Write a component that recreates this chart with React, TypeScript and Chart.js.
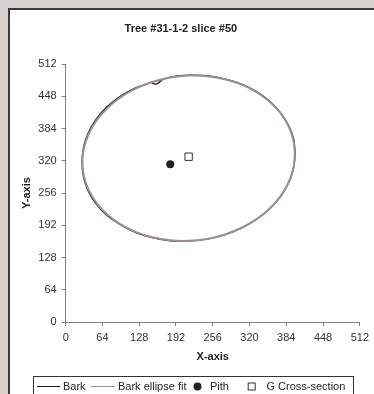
import React, { useEffect, useRef } from "react";
import { Chart, registerables } from "chart.js";

Chart.register(...registerables);

const FONT = '"Liberation Sans", Arial, Helvetica, sans-serif';

const TITLE = "Tree #31-1-2 slice #50";
const X_TITLE = "X-axis";
const Y_TITLE = "Y-axis";
const AXIS_MIN = 0;
const AXIS_MAX = 512;
const AXIS_STEP = 64;

const SERIES_NAMES = ["Bark", "Bark ellipse fit", "Pith", "G Cross-section"];

// Bark outline
const barkX = [
  399.5, 397, 388.5, 374.5, 356, 333, 306, 277, 246, 214, 198, 182,
  172, 168, 165, 161, 156, 152, 148.5, 140, 120.5, 94, 71, 52.5, 39, 31,
  28.5, 31, 39, 52.5, 71, 94.5, 121, 150.5, 182, 214, 246, 277.5, 306.5,
  333, 356, 374.5, 388, 396.5, 399.5,
];
const barkY = [
  333, 362, 389, 414.5, 437, 456.5, 472, 482.5, 489, 490, 489, 486,
  482.5, 481, 478, 474, 472, 473.5, 476, 471.8, 464, 447, 426, 401.5, 374.5, 346,
  317, 288, 260.5, 235, 212.5, 193.5, 178, 167.5, 161, 160.5, 164.5, 173.5, 187,
  204.5, 225.5, 250, 276.5, 304.5, 333,
];

// Bark ellipse fit
const ellipseX = [
  399.0, 396.2, 387.8, 374.2, 355.7, 332.9, 306.5, 277.3, 246.1, 214.0, 181.9, 150.7,
  121.5, 95.1, 72.3, 53.8, 40.2, 31.8, 29.0, 31.8, 40.2, 53.8, 72.3, 95.1,
  121.5, 150.7, 181.9, 214.0, 246.1, 277.3, 306.5, 332.9, 355.7, 374.2, 387.8, 396.2,
  399.0,
];
const ellipseY = [
  333.0, 361.4, 388.6, 413.9, 436.5, 455.7, 471.0, 481.8, 487.9, 489.0, 485.1, 476.4,
  463.0, 445.5, 424.3, 400.1, 373.6, 345.6, 317.0, 288.6, 261.4, 236.1, 213.5, 194.3,
  179.0, 168.2, 162.1, 161.0, 164.9, 173.6, 187.0, 204.5, 225.7, 249.9, 276.4, 304.4,
  333.0,
];

const pithX = [182];
const pithY = [313];
const gX = [214];
const gY = [328];

const toPoints = (xs: number[], ys: number[]) => xs.map((x, i) => ({ x, y: ys[i] }));

const BARK_COLOR = "#1a1a1a";
const FIT_COLOR = "#9e9090";

const legendPlugin = {
  id: "boxLegend",
  afterDraw(chart: any) {
    const ctx = chart.ctx as CanvasRenderingContext2D;
    const left = 33;
    const right = 353;
    const top = 376;
    const cy = 386.5;
    ctx.save();
    ctx.strokeStyle = "#333";
    ctx.lineWidth = 1;
    ctx.strokeRect(left + 0.5, top + 0.5, right - left, 30);
    ctx.font = `11px ${FONT}`;
    ctx.fillStyle = "#222";
    ctx.textBaseline = "middle";
    ctx.textAlign = "left";
    const slots = [
      { m0: 37, m1: 60, tx: 63 },
      { m0: 91, m1: 115, tx: 118 },
      { m0: 197.5, m1: 0, tx: 210 },
      { m0: 251.7, m1: 0, tx: 266.5 },
    ];
    chart.data.datasets.forEach((ds: any, i: number) => {
      const s = slots[i];
      if (!s) return;
      if (ds.showLine) {
        ctx.beginPath();
        ctx.strokeStyle = ds.borderColor;
        ctx.lineWidth = 1;
        ctx.moveTo(s.m0, cy);
        ctx.lineTo(s.m1, cy);
        ctx.stroke();
      } else if (ds.pointStyle === "circle") {
        ctx.beginPath();
        ctx.fillStyle = ds.backgroundColor;
        ctx.arc(s.m0, cy, 4, 0, Math.PI * 2);
        ctx.fill();
      } else {
        ctx.strokeStyle = ds.borderColor;
        ctx.fillStyle = "#fff";
        ctx.lineWidth = 1;
        ctx.fillRect(s.m0 - 3.5, cy - 3.5, 7, 7);
        ctx.strokeRect(s.m0 - 3.5, cy - 3.5, 7, 7);
      }
      ctx.fillStyle = "#222";
      ctx.fillText(ds.label, s.tx, cy);
    });
    ctx.restore();
  },
};

export default function App() {
  const canvasRef = useRef<HTMLCanvasElement | null>(null);

  useEffect(() => {
    const canvas = canvasRef.current;
    if (!canvas) return;
    Chart.defaults.font.family = FONT;
    const axisCommon = (title: string) => ({
      type: "linear" as const,
      min: AXIS_MIN,
      max: AXIS_MAX,
      ticks: {
        stepSize: AXIS_STEP,
        autoSkip: false,
        maxRotation: 0,
        font: { family: FONT, size: 11 },
        color: "#333",
        padding: 5,
      },
      grid: {
        drawOnChartArea: false,
        drawTicks: true,
        tickLength: 4,
        color: "#808080",
        lineWidth: 1,
      },
      border: { display: true, color: "#808080", width: 1 },
      title: {
        display: true,
        text: title,
        font: { family: FONT, size: 11, weight: "bold" as const },
        color: "#222",
      },
    });
    const xAxis: any = axisCommon(X_TITLE);
    xAxis.position = "bottom";
    xAxis.title.padding = { top: 0, bottom: 0 };
    xAxis.afterFit = (s: any) => {
      s.height = 42;
    };
    const yAxis: any = axisCommon(Y_TITLE);
    yAxis.position = "left";
    yAxis.title.padding = { top: 20.4, bottom: 0 };
    yAxis.afterFit = (s: any) => {
      s.width = 65.7;
    };

    const chart = new Chart(canvas, {
      type: "scatter",
      data: {
        datasets: [
          {
            label: SERIES_NAMES[0],
            data: toPoints(barkX, barkY),
            showLine: true,
            borderColor: BARK_COLOR,
            borderWidth: 1.4,
            pointRadius: 0,
            tension: 0.3,
            order: 3,
          },
          {
            label: SERIES_NAMES[1],
            data: toPoints(ellipseX, ellipseY),
            showLine: true,
            borderColor: FIT_COLOR,
            borderWidth: 2,
            pointRadius: 0,
            tension: 0.4,
            order: 2,
          },
          {
            label: SERIES_NAMES[2],
            data: toPoints(pithX, pithY),
            showLine: false,
            pointStyle: "circle",
            pointRadius: 4,
            backgroundColor: "#222",
            borderColor: "#222",
            borderWidth: 0,
            order: 0,
          },
          {
            label: SERIES_NAMES[3],
            data: toPoints(gX, gY),
            showLine: false,
            pointStyle: "rect",
            pointRadius: 5.2,
            backgroundColor: "#fff",
            borderColor: "#333",
            borderWidth: 1,
            order: 1,
          },
        ],
      },
      options: {
        responsive: false,
        animation: false,
        devicePixelRatio: 1,
        layout: { padding: { left: 0, right: 12.3, top: 0, bottom: 30 } },
        scales: { x: xAxis, y: yAxis },
        plugins: {
          legend: { display: false },
          tooltip: { enabled: false },
          title: {
            display: true,
            text: TITLE,
            font: { family: FONT, size: 11, weight: "bold" },
            color: "#222",
            padding: { top: 22.5, bottom: 28.3 },
          },
        },
      },
      plugins: [legendPlugin],
    });
    return () => chart.destroy();
  }, []);

  return (
    <div
      style={{
        position: "fixed",
        left: 0,
        top: 0,
        width: 374,
        height: 394,
        overflow: "hidden",
        background: "#d6d0cf",
      }}
    >
      <div
        style={{
          position: "absolute",
          left: 8,
          top: 8,
          width: 400,
          height: 420,
          background: "#ffffff",
          border: "2px solid #3c3c3c",
        }}
      />
      <canvas
        ref={canvasRef}
        width={374}
        height={394}
        style={{ position: "absolute", left: 0, top: 0, display: "block" }}
      />
    </div>
  );
}
